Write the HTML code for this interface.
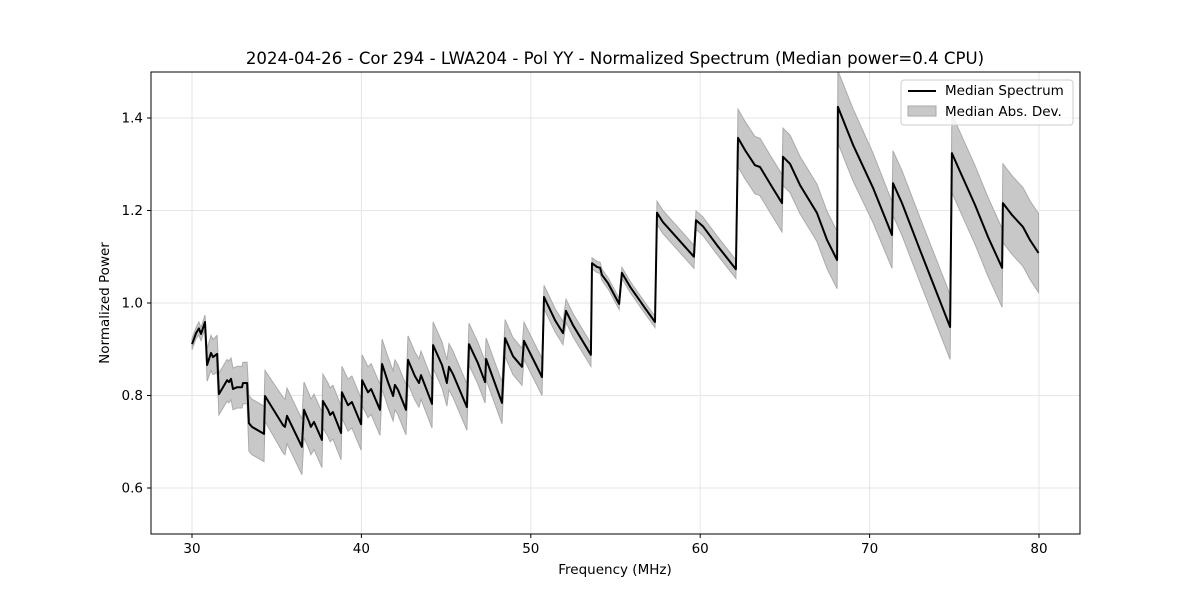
<!DOCTYPE html>
<html><head><meta charset="utf-8"><style>
body{margin:0;background:#fff}
svg{display:block;font-family:"DejaVu Sans","Liberation Sans",sans-serif}
</style></head><body>
<svg id="chart" width="1200" height="600" viewBox="0 0 1200 600" xmlns="http://www.w3.org/2000/svg">
<rect width="1200" height="600" fill="#fff"/>
<text x="615" y="64" font-size="16.6" text-anchor="middle">2024-04-26 - Cor 294 - LWA204 - Pol YY - Normalized Spectrum (Median power=0.4 CPU)</text>
<g id="grid"></g>
<g id="band"></g>
<g id="line"></g>
<rect x="151" y="72" width="929" height="462" fill="none" stroke="#000" stroke-width="1"/>
<g id="axes"></g>
<text x="615" y="574" font-size="13.5" text-anchor="middle">Frequency (MHz)</text>
<text transform="translate(109,303) rotate(-90)" font-size="13.5" text-anchor="middle">Normalized Power</text>
<g>
<rect x="901" y="80" width="172" height="45" rx="3" fill="#fff" fill-opacity="0.8" stroke="#ccc"/>
<line x1="908" y1="91" x2="936" y2="91" stroke="#000" stroke-width="2"/>
<text x="945" y="95" font-size="13.5">Median Spectrum</text>
<rect x="908" y="106" width="28" height="10" fill="#c8c8c8" stroke="#aaa"/>
<text x="945" y="116" font-size="13.5">Median Abs. Dev.</text>
</g>
</svg>
<script>
const freqs=[30.00,30.24,30.41,30.53,30.77,30.89,31.12,31.24,31.48,31.59,31.83,32.07,32.18,32.30,32.42,32.66,32.95,33.01,33.25,33.36,33.54,34.25,34.31,35.37,35.49,35.61,36.49,36.61,36.91,37.02,37.20,37.67,37.73,38.03,38.15,38.32,38.80,38.85,39.21,39.44,39.98,40.04,40.39,40.57,41.10,41.22,41.57,41.87,41.98,42.16,42.63,42.75,43.16,43.40,43.52,44.17,44.23,44.76,45.05,45.17,45.41,46.23,46.35,46.88,47.30,47.36,48.30,48.48,48.95,49.48,49.60,50.66,50.78,51.43,51.90,52.08,52.49,53.55,53.61,53.91,54.09,54.20,54.56,55.21,55.38,55.86,56.74,57.33,57.45,57.80,58.63,59.63,59.75,60.16,60.99,62.11,62.23,62.64,63.23,63.53,64.24,64.83,64.89,65.30,65.89,66.89,67.49,68.08,68.13,69.02,70.20,71.32,71.38,71.91,72.98,74.75,74.86,75.22,76.22,76.99,77.82,77.87,78.41,79.06,79.47,79.97];
const median=[0.911,0.935,0.945,0.933,0.959,0.866,0.892,0.883,0.890,0.803,0.818,0.833,0.829,0.836,0.814,0.818,0.818,0.827,0.827,0.740,0.732,0.717,0.799,0.736,0.732,0.756,0.689,0.769,0.743,0.732,0.743,0.704,0.788,0.769,0.758,0.764,0.719,0.807,0.779,0.786,0.738,0.833,0.807,0.814,0.769,0.868,0.829,0.799,0.823,0.812,0.769,0.877,0.842,0.827,0.844,0.782,0.909,0.866,0.827,0.862,0.846,0.775,0.911,0.870,0.829,0.879,0.784,0.924,0.885,0.862,0.918,0.840,1.013,0.963,0.935,0.983,0.952,0.888,1.086,1.078,1.076,1.061,1.043,0.998,1.065,1.035,0.989,0.959,1.195,1.175,1.141,1.100,1.179,1.166,1.125,1.073,1.357,1.331,1.298,1.294,1.251,1.216,1.316,1.301,1.255,1.195,1.136,1.093,1.424,1.342,1.249,1.147,1.259,1.216,1.114,0.948,1.324,1.294,1.212,1.143,1.076,1.216,1.190,1.164,1.136,1.108];
const mad=[0.012,0.012,0.014,0.014,0.015,0.035,0.038,0.038,0.04,0.045,0.045,0.045,0.045,0.045,0.045,0.045,0.045,0.045,0.045,0.06,0.06,0.06,0.055,0.06,0.06,0.06,0.06,0.06,0.06,0.06,0.06,0.06,0.058,0.058,0.058,0.058,0.058,0.056,0.056,0.056,0.056,0.055,0.055,0.055,0.055,0.054,0.054,0.054,0.054,0.054,0.054,0.052,0.052,0.052,0.052,0.052,0.05,0.05,0.05,0.05,0.05,0.05,0.045,0.045,0.045,0.045,0.045,0.04,0.04,0.04,0.04,0.04,0.025,0.025,0.025,0.025,0.025,0.025,0.012,0.012,0.012,0.012,0.012,0.012,0.012,0.012,0.012,0.012,0.025,0.025,0.025,0.025,0.02,0.02,0.02,0.02,0.062,0.062,0.062,0.062,0.062,0.062,0.062,0.062,0.062,0.062,0.062,0.062,0.078,0.078,0.075,0.072,0.07,0.07,0.07,0.07,0.085,0.085,0.085,0.085,0.085,0.085,0.085,0.085,0.085,0.085];
const xTicks=[30,40,50,60,70,80];
const yTicks=[0.6,0.8,1.0,1.2,1.4];
const yTickLabels=["0.6","0.8","1.0","1.2","1.4"];
const NS="http://www.w3.org/2000/svg";
function xs(f){return 192+(f-30)*16.94;}
function ys(v){return 118+(1.4-v)*462.5;}
function mk(tag,attrs,parent){const e=document.createElementNS(NS,tag);for(const k in attrs)e.setAttribute(k,attrs[k]);parent.appendChild(e);return e;}
const grid=document.getElementById('grid'),axes=document.getElementById('axes');
xTicks.forEach(t=>{const x=xs(t);
 const g=mk('line',{x1:x,x2:x,y1:72,y2:534,stroke:'#e6e6e6'},grid);
 
 
 const tk=mk('line',{x1:x,x2:x,y1:534,y2:538,stroke:'#000'},axes);
 
 
 const tl=mk('text',{x:x,y:553,'font-size':13.5,'text-anchor':'middle'},axes);tl.textContent=String(t);
 
 
});
yTicks.forEach((t,i)=>{const y=ys(t);
 const g=mk('line',{x1:151,x2:1080,y1:y,y2:y,stroke:'#e6e6e6'},grid);
 
 
 const tk=mk('line',{x1:147,x2:151,y1:y,y2:y,stroke:'#000'},axes);
 
 
 const tl=mk('text',{x:143,y:y+4.5,'font-size':13.5,'text-anchor':'end'},axes);tl.textContent=yTickLabels[i];
 
 
});
let up=[],lo=[],ln=[];
for(let i=0;i<freqs.length;i++){const x=xs(freqs[i]).toFixed(1);
 up.push(x+','+ys(median[i]+mad[i]).toFixed(1));
 lo.unshift(x+','+ys(median[i]-mad[i]).toFixed(1));
 ln.push(x+','+ys(median[i]).toFixed(1));}
const clip=mk('clipPath',{id:'pc'},document.getElementById('chart'));
mk('rect',{x:151,y:72,width:929,height:462},clip);
const band=mk('polygon',{points:up.concat(lo).join(' '),fill:'#c8c8c8',stroke:'#aaa','stroke-width':1,'clip-path':'url(#pc)'},document.getElementById('band'));


const line=mk('polyline',{points:ln.join(' '),fill:'none',stroke:'#000','stroke-width':2,'stroke-linejoin':'round','clip-path':'url(#pc)'},document.getElementById('line'));


</script>
</body></html>
